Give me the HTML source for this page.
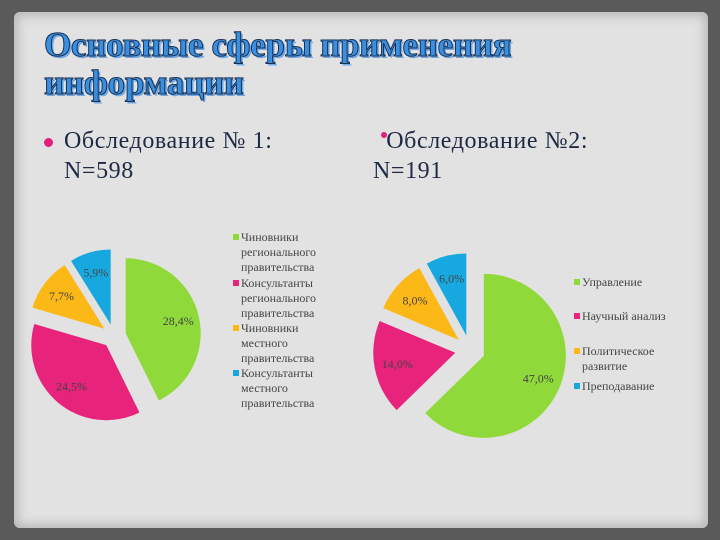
<!DOCTYPE html>
<html><head><meta charset="utf-8"><style>
html,body{margin:0;padding:0}
body{width:720px;height:540px;overflow:hidden;background:#5a5a5a;font-family:"Liberation Serif","DejaVu Serif",serif;position:relative}
#paper{position:absolute;left:14px;top:12px;width:694px;height:516px;background:#e2e2e2;border-radius:6px;box-shadow:0 0 10px 4px #b9b9b9 inset}
.title{position:absolute;left:44px;font-size:35px;font-weight:bold;color:#3a8fe0;-webkit-text-stroke:1px #1b3050;text-shadow:2px 2px 0 #6fa8e6;letter-spacing:-0.3px;line-height:38px}
.bul{position:absolute;font-size:24px;color:#1e2a44;line-height:30px;letter-spacing:0.6px}
.dot{position:absolute;width:9px;height:9px;border-radius:50%}
</style></head><body>
<div id="paper"></div>
<div class="title" style="top:26px">Основные сферы применения<br>информации</div>
<div class="dot" style="left:44px;top:138px;background:#e0207a"></div>
<div class="bul" style="left:64px;top:126px">Обследование № 1:<br>N=598</div>
<div class="dot" style="left:381px;top:132px;background:#e0207a;width:6px;height:6px"></div>
<div class="bul" style="left:373px;top:126px">&nbsp;&nbsp;Обследование №2:<br>N=191</div>
<svg id="chart" width="720" height="540" style="position:absolute;left:0;top:0"></svg>
<script>
const cats1=["Чиновники регионального правительства","Консультанты регионального правительства","Чиновники местного правительства","Консультанты местного правительства"];
const vals1=[28.4,24.5,7.7,5.9];
const labels1=["28,4%","24,5%","7,7%","5,9%"];
const cats2=["Управление","Научный анализ","Политическое развитие","Преподавание"];
const vals2=[47.0,14.0,8.0,6.0];
const labels2=["47,0%","14,0%","8,0%","6,0%"];
const colors=["#8fd93a","#e8237c","#fbb817","#17a8e0"];
const svg=document.getElementById('chart');
const NS="http://www.w3.org/2000/svg";
function pie(vals,labels,cx,cy,r,ex,lf,prefix){
  const tot=vals.reduce((a,b)=>a+b,0);let a0=0;
  vals.forEach((v,i)=>{
    const a1=a0+v/tot*2*Math.PI,m=(a0+a1)/2;
    const ox=cx+ex*Math.sin(m),oy=cy-ex*Math.cos(m);
    const x0=ox+r*Math.sin(a0),y0=oy-r*Math.cos(a0),x1=ox+r*Math.sin(a1),y1=oy-r*Math.cos(a1);
    const p=document.createElementNS(NS,'path');
    p.setAttribute('d',`M${ox},${oy}L${x0},${y0}A${r},${r} 0 ${a1-a0>Math.PI?1:0} 1 ${x1},${y1}Z`);
    p.setAttribute('fill',colors[i]);
    
    
    svg.appendChild(p);
    const t=document.createElementNS(NS,'text');
    t.setAttribute('x',ox+r*lf*Math.sin(m));t.setAttribute('y',oy-r*lf*Math.cos(m)+4);
    t.setAttribute('text-anchor','middle');t.setAttribute('font-size','12');t.setAttribute('fill','#444');
    t.setAttribute('font-family','Liberation Serif, serif');
    t.textContent=labels[i];
    
    
    svg.appendChild(t);
    a0=a1;
  });
}
pie(vals1,labels1,114,336,75,12,0.72,'pie1');
pie(vals2,labels2,470,350,82,15,0.72,'pie2');
function legend(cats,x,ys,lines,prefix){
  cats.forEach((c,i)=>{
    const r=document.createElementNS(NS,'rect');
    r.setAttribute('x',x);r.setAttribute('y',ys[i]-7);r.setAttribute('width',6);r.setAttribute('height',6);r.setAttribute('fill',colors[i]);
    
    
    svg.appendChild(r);
    lines[i].forEach((ln,j)=>{
      const t=document.createElementNS(NS,'text');
      t.setAttribute('x',x+8);t.setAttribute('y',ys[i]+j*15);t.setAttribute('font-size','12');t.setAttribute('fill','#444');
      t.setAttribute('font-family','Liberation Serif, serif');
      t.textContent=ln;
      
      
      svg.appendChild(t);
    });
  });
}
legend(cats1,233,[241,287,332,377],[["Чиновники","регионального","правительства"],["Консультанты","регионального","правительства"],["Чиновники","местного","правительства"],["Консультанты","местного","правительства"]],'pie1');
legend(cats2,574,[286,320,355,390],[["Управление"],["Научный анализ"],["Политическое","развитие"],["Преподавание"]],'pie2');
</script>
</body></html>
